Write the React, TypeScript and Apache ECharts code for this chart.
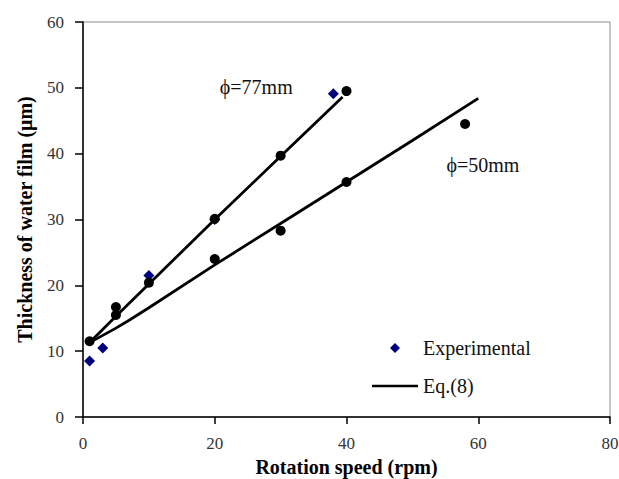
import React, { useEffect, useRef } from "react";
import * as echarts from "echarts";

// Experimental data (blue diamonds)
const expSpeed = [1, 3, 10, 20, 38];
const expThick = [8.5, 10.5, 21.5, 30, 49.1];

// Measured points (black dots)
const dotSpeed = [1, 5, 5, 10, 20, 20, 30, 30, 40, 40, 58];
const dotThick = [11.5, 16.7, 15.5, 20.4, 30.1, 24.0, 39.7, 28.3, 49.5, 35.7, 44.5];

// Eq.(8) curves
const eq77Speed = [1, 5, 10, 20, 30, 39.4];
const eq77Thick = [11.3, 15.3, 20.2, 30.0, 39.6, 48.6];
const eq50Speed = [1, 5, 7, 10, 20, 30, 40, 50, 60];
const eq50Thick = [11.3, 13.5, 14.7, 16.6, 23.1, 29.4, 35.7, 42.0, 48.4];

// Annotations
const annotText = ["ϕ=77mm", "ϕ=50mm"];
const annotSpeed = [26.3, 60.7];
const annotThick = [50.2, 38.3];

// Axis settings
const xTicks = { min: 0, max: 80, interval: 20 };
const yTicks = { min: 0, max: 60, interval: 10 };

const FONT = "'Liberation Serif', 'Times New Roman', serif";

const zip = (xs: number[], ys: number[]) => xs.map((x, i) => [x, ys[i]]);

export default function App() {
  const ref = useRef<HTMLDivElement>(null);
  useEffect(() => {
    if (!ref.current) return;
    const chart = echarts.init(ref.current, null, { renderer: "svg" });
    chart.setOption({
      animation: false,
      backgroundColor: "#ffffff",
      textStyle: { fontFamily: FONT },
      grid: {
        left: 83,
        right: 9,
        top: 22,
        bottom: 62,
        show: true,
        borderColor: "#8c8c8c",
        borderWidth: 1,
        outerBoundsMode: "none",
      },
      legend: {
        data: [
          {
            name: "Experimental",
            icon: "path://M5,0 L10,5 L5,10 L0,5 Z",
            itemStyle: { color: "#000080", opacity: 1 },
          },
          {
            name: "Eq.(8)",
            icon: "path://M0,0 L46,0 L46,2.5 L0,2.5 Z",
            itemStyle: { color: "#000", opacity: 1 },
          },
        ],
        orient: "vertical",
        left: 367,
        top: 333,
        itemWidth: 46,
        itemHeight: 10,
        itemGap: 18,
        symbolKeepAspect: true,
        textStyle: { fontFamily: FONT, fontSize: 20, color: "#111", lineHeight: 20 },
      },
      xAxis: {
        type: "value",
        ...xTicks,
        name: "Rotation speed (rpm)",
        nameLocation: "middle",
        nameGap: 36,
        nameTextStyle: { fontFamily: FONT, fontSize: 20, fontWeight: "bold", color: "#000" },
        axisLine: { lineStyle: { color: "#000", width: 1.5 } },
        axisTick: { show: true, inside: false, length: 7, lineStyle: { color: "#000", width: 1.5 } },
        axisLabel: { fontFamily: FONT, fontSize: 17, color: "#333", margin: 18 },
        splitLine: { show: false },
      },
      yAxis: {
        type: "value",
        ...yTicks,
        name: "Thickness of water film (μm)",
        nameLocation: "middle",
        nameGap: 48,
        nameTextStyle: { fontFamily: FONT, fontSize: 20, fontWeight: "bold", color: "#000" },
        axisLine: { show: true, lineStyle: { color: "#000", width: 1.5 } },
        axisTick: { show: true, inside: false, length: 8, lineStyle: { color: "#000", width: 1.5 } },
        axisLabel: { fontFamily: FONT, fontSize: 17, color: "#333", margin: 19 },
        splitLine: { show: false },
      },
      series: [
        {
          name: "Eq.(8)",
          type: "line",
          data: zip(eq77Speed, eq77Thick),
          symbol: "none",
          lineStyle: { color: "#000", width: 2.8 },
          itemStyle: { color: "#000" },
        },
        {
          name: "Eq.(8)",
          type: "line",
          data: zip(eq50Speed, eq50Thick),
          symbol: "none",
          lineStyle: { color: "#000", width: 2.8 },
          itemStyle: { color: "#000" },
        },
        {
          name: "Experimental",
          type: "scatter",
          data: zip(expSpeed, expThick),
          symbol: "diamond",
          symbolSize: [11, 11],
          itemStyle: { color: "#000080", opacity: 1 },
        },
        {
          name: "Measured",
          type: "scatter",
          data: zip(dotSpeed, dotThick),
          symbol: "circle",
          symbolSize: 10,
          itemStyle: { color: "#000", opacity: 1 },
        },
        {
          name: "annotations",
          type: "scatter",
          silent: true,
          symbolSize: 0,
          itemStyle: { opacity: 1 },
          data: annotText.map((t, i) => ({ name: t, value: [annotSpeed[i], annotThick[i]] })),
          label: {
            show: true,
            position: "inside",
            formatter: (p: any) => p.name,
            fontFamily: FONT,
            fontSize: 20,
            color: "#111",
            textBorderWidth: 0,
          },
        },
      ],
    });
    return () => chart.dispose();
  }, []);
  return (
    <div
      ref={ref}
      style={{ position: "fixed", left: 0, top: 0, width: 619, height: 479, background: "#fff" }}
    />
  );
}
